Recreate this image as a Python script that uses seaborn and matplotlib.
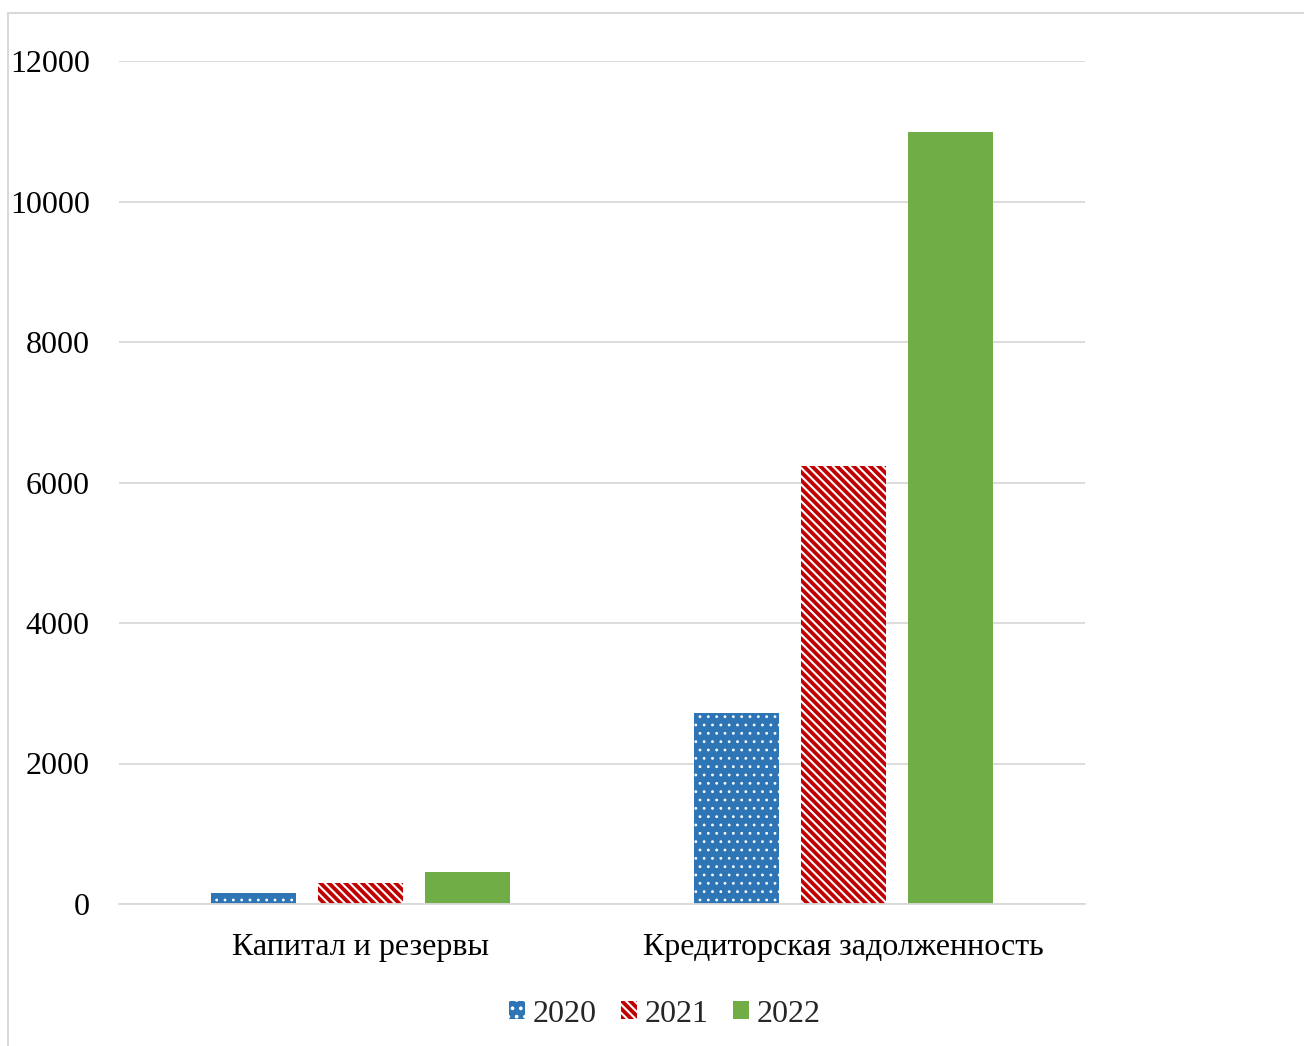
import matplotlib
matplotlib.use("Agg")
import matplotlib.pyplot as plt
from matplotlib.lines import Line2D
from matplotlib.patches import Patch
import seaborn as sns
import pandas as pd

categories = ["Капитал и резервы", "Кредиторская задолженность"]
years = ["2020", "2021", "2022"]
values_2020 = [150, 2720]
values_2021 = [300, 6240]
values_2022 = [455, 10990]

colors = {"2020": "#2E75B6", "2021": "#C00000", "2022": "#70AD47"}
hatches = {"2020": "..", "2021": "\\\\\\\\", "2022": ""}
hatch_widths = {"2020": 0.8, "2021": 1.5, "2022": 1.0}

rows = []
for year, vals in zip(years, [values_2020, values_2021, values_2022]):
    for cat, v in zip(categories, vals):
        rows.append({"category": cat, "year": year, "value": v})
df = pd.DataFrame(rows)

sns.set_theme(style="white")
plt.rcParams["font.family"] = ["Liberation Serif", "DejaVu Serif"]
plt.rcParams["hatch.linewidth"] = 1.5
plt.rcParams["hatch.color"] = "white"

FS = 23

fig = plt.figure(figsize=(13.04, 10.46), dpi=100)
ax = fig.add_axes([119 / 1304, 1 - 904 / 1046, (1085 - 119) / 1304, (904 - 61) / 1046])

sns.barplot(data=df, x="category", y="value", hue="year", order=categories,
            hue_order=years, palette=colors, width=0.664, gap=0.2,
            saturation=1, legend=False, ax=ax)


def style_patch(p, year):
    p.set_facecolor(colors[year])
    p.set_linewidth(0)
    if hatches[year]:
        p.set_hatch(hatches[year])
        p.set_edgecolor("white")
        if hasattr(p, "set_hatch_linewidth"):
            p.set_hatch_linewidth(hatch_widths[year])
        else:
            p._hatch_linewidth = hatch_widths[year]


# fill patterns per series
for container, year in zip(ax.containers, years):
    for bar in container:
        style_patch(bar, year)

ax.set_xlim(-0.5, 1.5)
ax.set_ylim(0, 12000)
ax.set_yticks(range(0, 12001, 2000))
ax.yaxis.grid(True, color="#D9D9D9", linewidth=1.3)
ax.set_axisbelow(True)
for side in ["left", "right", "top"]:
    ax.spines[side].set_visible(False)
ax.spines["bottom"].set_color("#D9D9D9")
ax.spines["bottom"].set_linewidth(1.3)
ax.set_xlabel("")
ax.set_ylabel("")
ax.tick_params(axis="y", length=0, pad=21, labelsize=FS, labelcolor="black")
ax.tick_params(axis="x", length=0, pad=21, labelsize=FS, labelcolor="black")

handles = []
for year in years:
    h = Patch(facecolor=colors[year])
    style_patch(h, year)
    handles.append(h)
fig.legend(handles, years, loc="center", bbox_to_anchor=(665 / 1304, 1 - 1014 / 1046),
           ncol=3, frameon=False, fontsize=FS, handlelength=0.5, handleheight=0.5,
           handletextpad=0.25, columnspacing=0.75)

# outer chart frame
frame_kw = dict(color="#D9D9D9", linewidth=1.5, transform=fig.transFigure)
fig.add_artist(Line2D([8 / 1304, 8 / 1304], [1 - 13 / 1046, 0], **frame_kw))
fig.add_artist(Line2D([8 / 1304, 1], [1 - 13 / 1046, 1 - 13 / 1046], **frame_kw))

fig.savefig("out.png", dpi=100, facecolor="white")
